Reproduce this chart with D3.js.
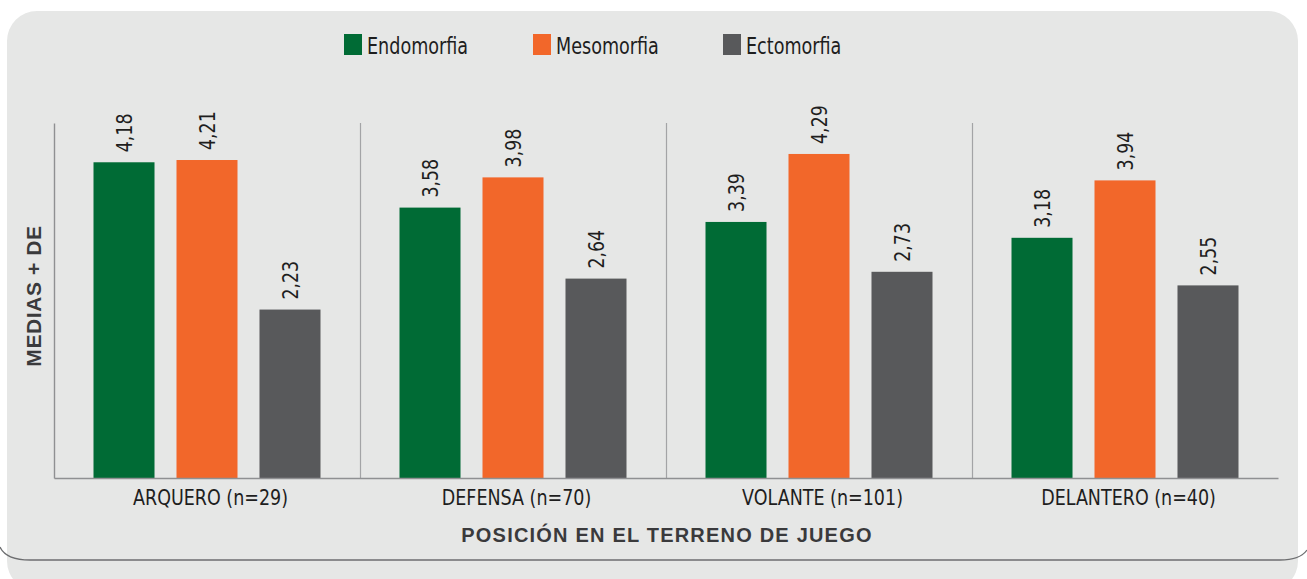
<!DOCTYPE html>
<html>
    <head>
        <meta charset="UTF-8">
        <script src="https://d3js.org/d3.v7.min.js"></script>
        <style>
            body { margin: 0; background: #fff; }
            text { font-family: "Liberation Sans Narrow", "DejaVu Sans Condensed", sans-serif; }
        </style>
    </head>

    <body>

        <svg id="canvas"></svg>

        <script>

            width = 1307;
            height = 579;

            categories = ["ARQUERO (n=29)", "DEFENSA (n=70)", "VOLANTE (n=101)", "DELANTERO (n=40)"];
            series = ["Endomorfia", "Mesomorfia", "Ectomorfia"];
            endomorfia = [4.18, 3.58, 3.39, 3.18];
            mesomorfia = [4.21, 3.98, 4.29, 3.94];
            ectomorfia = [2.23, 2.64, 2.73, 2.55];
            colors = ["#006b35", "#f2672a", "#58595b"];

            values = [endomorfia, mesomorfia, ectomorfia];
            rows = categories.map((c, i) => ({cat: c, vals: series.map((s, j) => ({s: s, v: values[j][i]}))}));

            canvas = d3.select("#canvas")
                .attr("width", width)
                .attr("height", height);

            // panel
            canvas.append("rect")
                .attr("x", 7).attr("y", 11)
                .attr("width", 1291).attr("height", 580)
                .attr("rx", 30).attr("ry", 30)
                .style("fill", "#e6e7e6");

            canvas.append("path")
                .attr("d", "M0,547 Q6,560 30,560 L1280,560 Q1300,560 1307,550")
                .style("fill", "none")
                .style("stroke", "#6d6e70")
                .style("stroke-width", 1.3);

            x0 = d3.scaleBand()
                .domain(categories)
                .range([54, 1278]);

            x1 = d3.scaleBand()
                .domain(series)
                .range([0, x0.bandwidth()])
                .paddingInner(0.265)
                .paddingOuter(0.476);

            y = d3.scaleLinear()
                .domain([0, 4.7])
                .range([478, 123]);

            color = d3.scaleOrdinal().domain(series).range(colors);

            fmt = (v) => d3.format(".2f")(v).replace(".", ",");

            // separators
            canvas.selectAll("line.sep")
                .data(categories.slice(1))
                .enter()
                    .append("line")
                        .attr("class", "sep")
                        .attr("x1", (d) => x0(d) + 0.5)
                        .attr("x2", (d) => x0(d) + 0.5)
                        .attr("y1", y(4.7))
                        .attr("y2", y(0))
                        .style("stroke", "#a3a4a6")
                        .style("stroke-width", 1.2);

            groups = canvas.selectAll("g.grp")
                .data(rows)
                .enter()
                    .append("g")
                        .attr("class", "grp")
                        .attr("transform", (d) => "translate(" + x0(d.cat) + ",0)");

            groups.selectAll("rect")
                .data((d) => d.vals)
                .enter()
                    .append("rect")
                        .attr("x", (d) => x1(d.s))
                        .attr("y", (d) => y(d.v))
                        .attr("width", x1.bandwidth())
                        .attr("height", (d) => y(0) - y(d.v))
                        .style("fill", (d) => color(d.s));

            // narrow look: taller glyphs squeezed along the reading direction
            groups.selectAll("text")
                .data((d) => d.vals)
                .enter()
                    .append("text")
                        .attr("transform", (d) => "translate(" + (x1(d.s) + x1.bandwidth() / 2 + 8) + "," + (y(d.v) - 10) + ") rotate(-90) scale(0.88,1)")
                        .style("font-size", "22px")
                        .style("fill", "#1e1e1e")
                        .text((d) => fmt(d.v));

            // y axis line
            yAxis = canvas.append("g")
                .attr("transform", "translate(54,0)")
                .call(d3.axisLeft(y).ticks(0).tickSize(0).tickSizeOuter(0));
            yAxis.select(".domain").style("stroke", "#8f9092").style("stroke-width", 1.4);

            // x axis
            xAxis = canvas.append("g")
                .attr("transform", "translate(0," + y(0) + ")")
                .call(d3.axisBottom(x0).tickSize(0).tickSizeOuter(0));
            xAxis.select(".domain").style("stroke", "#8f9092").style("stroke-width", 1.4);
            xAxis.selectAll(".tick text")
                .attr("x", 4)
                .attr("y", 27)
                .attr("dy", 0)
                .attr("transform", "scale(0.885,1)")
                .style("font-family", "'Liberation Sans Narrow', 'DejaVu Sans Condensed', sans-serif")
                .style("font-size", "22px")
                .style("fill", "#1e1e1e");

            // axis titles
            canvas.append("text")
                .attr("x", 667).attr("y", 542)
                .attr("text-anchor", "middle")
                .style("font-family", "'Liberation Sans', Arial, sans-serif")
                .style("font-weight", "bold")
                .style("font-size", "20px")
                .style("letter-spacing", "1.2px")
                .style("fill", "#3a3a3c")
                .text("POSICIÓN EN EL TERRENO DE JUEGO");

            canvas.append("text")
                .attr("transform", "translate(41,296) rotate(-90)")
                .attr("text-anchor", "middle")
                .style("font-family", "'Liberation Sans', Arial, sans-serif")
                .style("font-weight", "bold")
                .style("font-size", "21px")
                .style("letter-spacing", "0.6px")
                .style("fill", "#3a3a3c")
                .text("MEDIAS + DE");

            // legend
            legendX = [344, 533, 723];
            legend = canvas.selectAll("g.leg")
                .data(series)
                .enter()
                    .append("g")
                        .attr("class", "leg")
                        .attr("transform", (d, i) => "translate(" + legendX[i] + ",34)");
            legend.append("rect")
                .attr("width", 18).attr("height", 21)
                .style("fill", (d) => color(d));
            legend.append("text")
                .attr("transform", "translate(23,19.5) scale(0.85,1)")
                .style("font-size", "23px")
                .style("fill", "#1e1e1e")
                .text((d) => d);

        </script>

    </body>

</html>
